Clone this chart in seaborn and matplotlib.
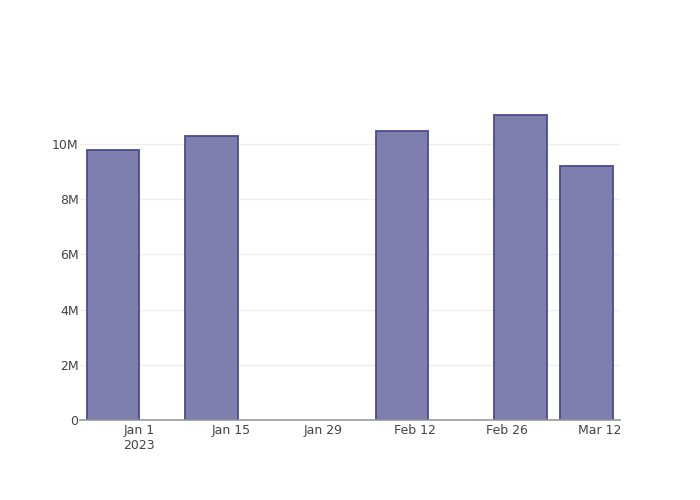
import matplotlib
matplotlib.use("Agg")
import matplotlib.pyplot as plt
import matplotlib.dates as mdates
import seaborn as sns
import pandas as pd
import numpy as np
from datetime import datetime

# Data
dates = ["2022-12-28", "2023-01-12", "2023-02-10", "2023-02-28", "2023-03-10"]
values = [9.80e6, 10.28e6, 10.47e6, 11.05e6, 9.20e6]
tick_dates = ["2023-01-01", "2023-01-15", "2023-01-29", "2023-02-12", "2023-02-26", "2023-03-12"]
tick_labels = ["Jan 1\n2023", "Jan 15", "Jan 29", "Feb 12", "Feb 26", "Mar 12"]
y_ticks = [0, 2e6, 4e6, 6e6, 8e6, 10e6]
y_tick_labels = ["0", "2M", "4M", "6M", "8M", "10M"]

sns.set_theme(style="white")
plt.rcParams['font.family'] = ['DejaVu Sans']

df = pd.DataFrame({"date": mdates.date2num(pd.to_datetime(dates)), "value": values})

fig = plt.figure(figsize=(7, 5), dpi=100)
ax = fig.add_axes([80/700, 80/500, 540/700, 320/500])

sns.barplot(data=df, x="date", y="value", native_scale=True, orient="x",
            color="#7e7eaf", saturation=1, edgecolor="#4b4b8f", linewidth=1.3,
            ax=ax, zorder=3)
for p in ax.patches:
    p.set_facecolor("#7e7eaf")

ax.set_xlim(mdates.date2num(datetime(2022, 12, 23)), mdates.date2num(datetime(2023, 3, 15, 3)))
ax.set_ylim(0, 11.6e6)

ax.set_xticks(mdates.date2num(pd.to_datetime(tick_dates)))
ax.set_xticklabels(tick_labels)
ax.set_yticks(y_ticks)
ax.set_yticklabels(y_tick_labels)

ax.yaxis.grid(True, color="#eeeeee", linewidth=1, zorder=0)
ax.xaxis.grid(False)
ax.set_axisbelow(True)
for s in ["top", "right", "left"]:
    ax.spines[s].set_visible(False)
ax.spines["bottom"].set_color("#999999")
ax.spines["bottom"].set_linewidth(1.2)
ax.spines["bottom"].set_zorder(5)

ax.tick_params(axis="both", length=0, labelsize=9, labelcolor="#444444")
ax.tick_params(axis="x", pad=3)
ax.tick_params(axis="y", pad=1)
ax.set_xlabel("")
ax.set_ylabel("")

fig.savefig("out.png", dpi=100)
